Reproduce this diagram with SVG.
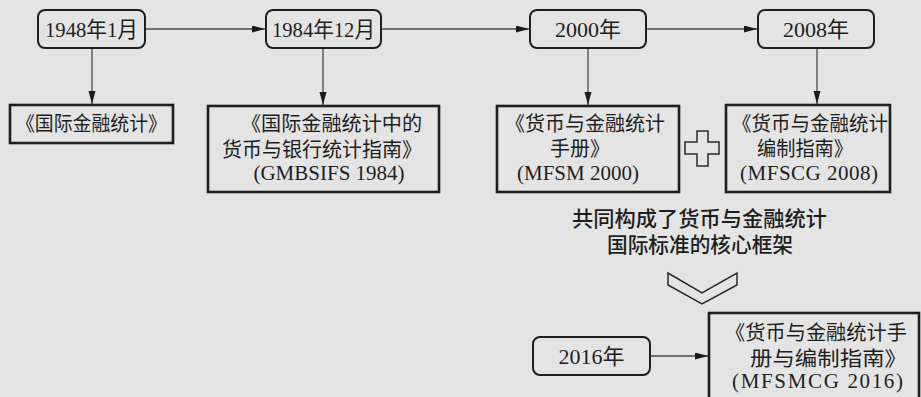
<svg xmlns="http://www.w3.org/2000/svg" width="921" height="397" viewBox="0 0 921 397">
<defs>
<marker id="ah" markerUnits="userSpaceOnUse" markerWidth="14" markerHeight="8" refX="13" refY="3.5" orient="auto">
<path d="M0,0 L13,3.5 L0,7 Z" fill="#1a1a1a"/>
</marker>
<style>
text{font-family:"Liberation Serif","Noto Sans CJK SC",serif;fill:#1e1e1e}
.d{font-size:22px;text-anchor:middle}
.c{font-size:20px}
.l{font-size:21px}
.m{text-anchor:middle}
.n{font-size:21px;font-weight:500;text-anchor:middle}
.rb{fill:#e4e4e4;stroke:#1e1e1e;stroke-width:2}
.bx{fill:#e4e4e4;stroke:#1e1e1e;stroke-width:2.6}
.cn{stroke:#4a4a4a;stroke-width:1.3;fill:none;marker-end:url(#ah)}
.sh{fill:none;stroke:#2a2a2a;stroke-width:1.5}
</style>
</defs>
<rect width="921" height="397" fill="#e4e4e4"/>
<g id="connectors">
<line class="cn" x1="145" y1="29" x2="265" y2="29"/>
<line class="cn" x1="381" y1="29" x2="529" y2="29"/>
<line class="cn" x1="646" y1="29" x2="757" y2="29"/>
<line class="cn" x1="92" y1="48" x2="92" y2="104"/>
<line class="cn" x1="323" y1="48" x2="323" y2="105"/>
<line class="cn" x1="588" y1="48" x2="588" y2="105"/>
<line class="cn" x1="817" y1="48" x2="817" y2="104"/>
<line class="cn" x1="650" y1="356" x2="708" y2="356"/>
</g>
<g id="d1948"><rect class="rb" x="38" y="10" width="107" height="38" rx="7"/><text class="d" x="91.5" y="37" textLength="93" lengthAdjust="spacingAndGlyphs">1948年1月</text></g>
<g id="d1984"><rect class="rb" x="266" y="10" width="115" height="38" rx="7"/><text class="d" x="323.5" y="37" textLength="103" lengthAdjust="spacingAndGlyphs">1984年12月</text></g>
<g id="d2000"><rect class="rb" x="530" y="10" width="116" height="38" rx="7"/><text class="d" x="588" y="37">2000年</text></g>
<g id="d2008"><rect class="rb" x="758" y="10" width="116" height="38" rx="7"/><text class="d" x="816" y="37">2008年</text></g>
<g id="d2016"><rect class="rb" x="533" y="337" width="117" height="38" rx="7"/><text class="d" x="591.5" y="364">2016年</text></g>
<g id="b1"><rect class="bx" x="10" y="105" width="163" height="38"/><text class="c" x="16" y="131" textLength="151" lengthAdjust="spacingAndGlyphs">《国际金融统计》</text></g>
<g id="b2"><rect class="bx" x="208" y="106" width="231" height="86"/>
<text class="c" x="241" y="131" textLength="181" lengthAdjust="spacingAndGlyphs">《国际金融统计中的</text>
<text class="c" x="222" y="157" textLength="200" lengthAdjust="spacingAndGlyphs">货币与银行统计指南》</text>
<text class="l m" x="329" y="180">(GMBSIFS 1984)</text></g>
<g id="b3"><rect class="bx" x="497" y="106" width="182" height="86"/>
<text class="c" x="505" y="131" textLength="160" lengthAdjust="spacingAndGlyphs">《货币与金融统计</text>
<text class="c m" x="580" y="156">手册》</text>
<text class="l m" x="578" y="180">(MFSM 2000)</text></g>
<g id="plus"><polygon class="sh" points="697,131 708,131 708,142 719,142 719,154 708,154 708,166 697,166 697,154 685,154 685,142 697,142"/></g>
<g id="b4"><rect class="bx" x="726" y="105" width="164" height="87"/>
<text class="c" x="732" y="131" textLength="156" lengthAdjust="spacingAndGlyphs">《货币与金融统计</text>
<text class="c" x="757" y="156" textLength="96" lengthAdjust="spacingAndGlyphs">编制指南》</text>
<text class="l" x="740" y="180" textLength="138" lengthAdjust="spacing">(MFSCG  2008)</text></g>
<g id="note">
<text class="n" x="699.5" y="226" textLength="255" lengthAdjust="spacingAndGlyphs">共同构成了货币与金融统计</text>
<text class="n" x="700" y="252" textLength="186" lengthAdjust="spacingAndGlyphs">国际标准的核心框架</text>
</g>
<g id="chevron"><polygon class="sh" points="668,273 702,293 737,273 737,285 702,304 668,285"/></g>
<g id="b5"><rect class="bx" x="709" y="313" width="210" height="90"/>
<text class="c" x="725" y="340" textLength="182" lengthAdjust="spacingAndGlyphs">《货币与金融统计手</text>
<text class="c" x="750" y="366" textLength="157" lengthAdjust="spacingAndGlyphs">册与编制指南》</text>
<text class="l" x="732" y="388" textLength="171" lengthAdjust="spacing">(MFSMCG  2016)</text></g>
</svg>
